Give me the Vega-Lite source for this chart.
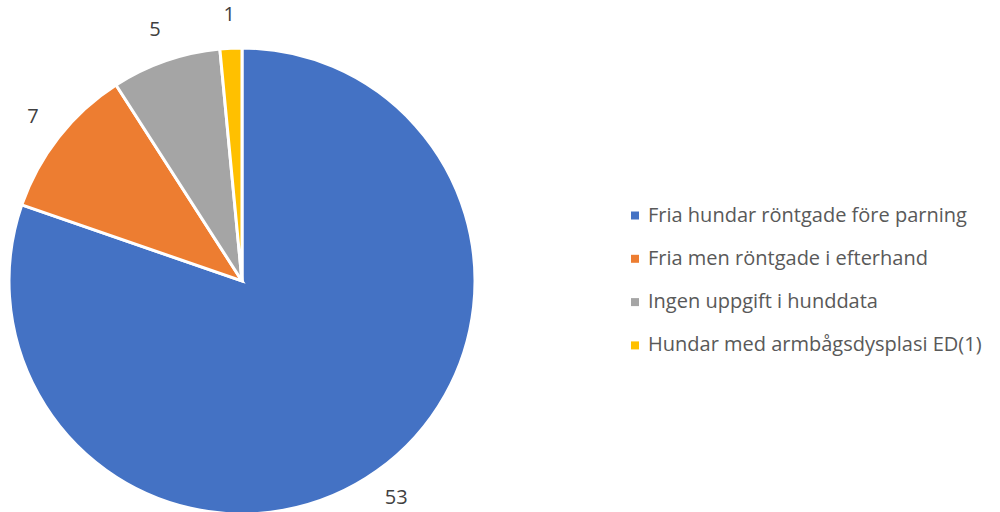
{
  "$schema": "https://vega.github.io/schema/vega-lite/v6.json",
  "width": 484,
  "height": 512,
  "autosize": {"type": "none"},
  "padding": {"left": 0, "top": 0, "right": 516, "bottom": 0},
  "background": "white",
  "config": {"view": {"stroke": null}},
  "data": {"values": [
    {"kategori": "Fria hundar röntgade före parning", "antal": 53},
    {"kategori": "Fria men röntgade i efterhand", "antal": 7},
    {"kategori": "Ingen uppgift i hunddata", "antal": 5},
    {"kategori": "Hundar med armbågsdysplasi ED(1)", "antal": 1}
  ]},
  "encoding": {
    "theta": {"field": "antal", "type": "quantitative", "stack": true},
    "order": {"field": "antal", "type": "quantitative", "sort": "descending"},
    "color": {
      "field": "kategori",
      "type": "nominal",
      "scale": {
        "domain": ["Fria hundar röntgade före parning", "Fria men röntgade i efterhand", "Ingen uppgift i hunddata", "Hundar med armbågsdysplasi ED(1)"],
        "range": ["#4472C4", "#ED7D31", "#A5A5A5", "#FFC000"]
      },
      "legend": {
        "title": null,
        "orient": "none",
        "legendX": 625,
        "legendY": 205.5,
        "symbolType": "square",
        "symbolSize": 64,
        "symbolStrokeWidth": 0,
        "labelFont": "Open Sans",
        "labelFontSize": 20,
        "labelColor": "#595959",
        "labelLimit": 400,
        "labelOffset": 3,
        "rowPadding": 23.3
      }
    }
  },
  "layer": [
    {
      "mark": {"type": "arc", "outerRadius": 233, "stroke": "white", "strokeWidth": 3, "yOffset": 25}
    },
    {
      "mark": {"type": "text", "radius": 266, "yOffset": 25, "font": "Open Sans", "fontSize": 20, "fill": "#404040"},
      "encoding": {
        "text": {"field": "antal", "type": "quantitative"},
        "color": {"value": "#404040"}
      }
    }
  ]
}
